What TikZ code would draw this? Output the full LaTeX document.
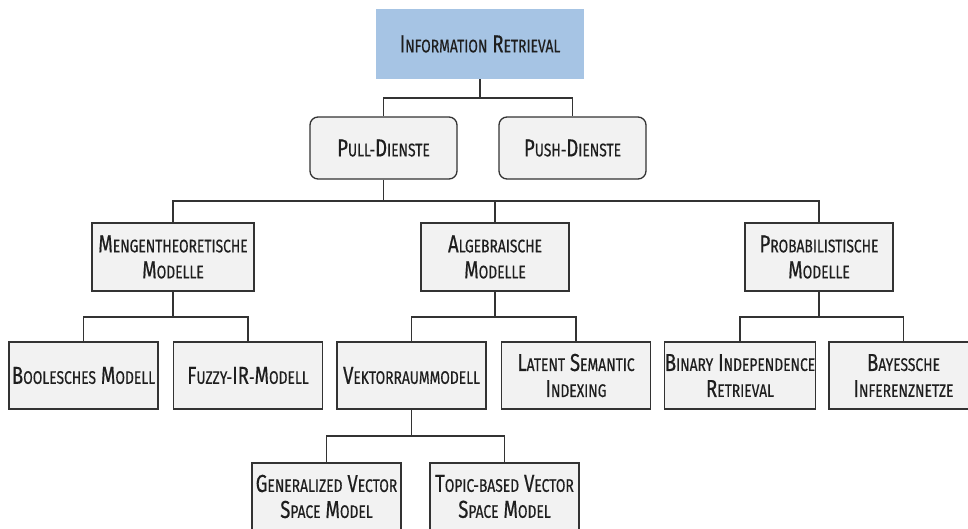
\documentclass[tikz,border=0pt]{standalone}
\usepackage{fontspec}
\setmainfont{Fira Sans}[FakeStretch=0.76,FakeBold=0.5]
\definecolor{irblue}{RGB}{166,196,228}
\definecolor{boxfill}{RGB}{242,242,242}
\definecolor{linegray}{RGB}{51,51,51}
\definecolor{txtgray}{RGB}{30,30,30}
% hand-made small capitals: capitals at full size, the rest smaller
\newcommand\capsz{\fontsize{24.5}{26}\selectfont}
\newcommand\sm[1]{{\fontsize{18.2}{26}\selectfont #1}}
\begin{document}
\begin{tikzpicture}[x=1pt,y=-1pt,
  every node/.style={inner sep=0pt, align=center, text=txtgray, font=\capsz},
  box/.style={draw=linegray, fill=boxfill, line width=1.3pt,
    minimum width=149pt, minimum height=67pt},
  roundbox/.style={box, rounded corners=8pt, minimum width=147pt, minimum height=62pt},
  topbox/.style={fill=irblue, minimum width=208pt, minimum height=70pt},
  link/.style={draw=linegray, line width=1.3pt}]
\useasboundingbox (0,0) rectangle (968,528);
\clip (0,0) rectangle (968,528);

% level 0 and 1
\node[topbox] (ir) at (480,44) {I\sm{NFORMATION} R\sm{ETRIEVAL}};
\node[roundbox] (pull) at (383.5,148) {P\sm{ULL-}D\sm{IENSTE}};
\node[roundbox] (push) at (572.5,148) {P\sm{USH-}D\sm{IENSTE}};

% level 2: model families
\node[box, minimum width=162pt, minimum height=68pt] (mengen) at (173,257)
  {M\sm{ENGENTHEORETISCHE}\\M\sm{ODELLE}};
\node[box, minimum width=148pt, minimum height=68pt] (alg) at (495,257)
  {A\sm{LGEBRAISCHE}\\M\sm{ODELLE}};
\node[box, minimum width=148pt, minimum height=68pt] (prob) at (819,257)
  {P\sm{ROBABILISTISCHE}\\M\sm{ODELLE}};

% level 3: single models
\node[box] (bool) at (83.5,375.5) {B\sm{OOLESCHES} M\sm{ODELL}};
\node[box] (fuzzy) at (248,375.5) {F\sm{UZZY-}IR\sm{-}M\sm{ODELL}};
\node[box] (vekt) at (411.5,375.5) {V\sm{EKTORRAUMMODELL}};
\node[box] (lsi) at (576,375.5) {L\sm{ATENT} S\sm{EMANTIC}\\I\sm{NDEXING}};
\node[box] (bir) at (740,375.5) {B\sm{INARY} I\sm{NDEPENDENCE}\\R\sm{ETRIEVAL}};
\node[box] (bin) at (903.5,375.5) {B\sm{AYESSCHE}\\I\sm{NFERENZNETZE}};

% level 4: vector space variants
\node[box] (gvsm) at (326.5,496.5) {G\sm{ENERALIZED} V\sm{ECTOR}\\S\sm{PACE} M\sm{ODEL}};
\node[box] (topic) at (504.5,496.5) {T\sm{OPIC-BASED} V\sm{ECTOR}\\S\sm{PACE} M\sm{ODEL}};

% branch points of the tree
\coordinate (b1) at (480,98);
\coordinate (b2) at (383.5,201);
\coordinate (b3) at (173,317);
\coordinate (b4) at (495,317);
\coordinate (b5) at (819,317);
\coordinate (b6) at (411.5,436);

% connectors
\draw[link] (ir.south) -- (b1);
\draw[link] (pull.north) |- (b1) -| (push.north);
\draw[link] (pull.south) -- (b2);
\draw[link] (mengen.north) |- (b2) -| (prob.north);
\draw[link] (alg.north) -- (alg.north |- b2);
\draw[link] (mengen.south) -- (b3);
\draw[link] (bool.north) |- (b3) -| (fuzzy.north);
\draw[link] (alg.south) -- (b4);
\draw[link] (vekt.north) |- (b4) -| (lsi.north);
\draw[link] (prob.south) -- (b5);
\draw[link] (bir.north) |- (b5) -| (bin.north);
\draw[link] (vekt.south) -- (b6);
\draw[link] (gvsm.north) |- (b6) -| (topic.north);
\end{tikzpicture}
\end{document}
